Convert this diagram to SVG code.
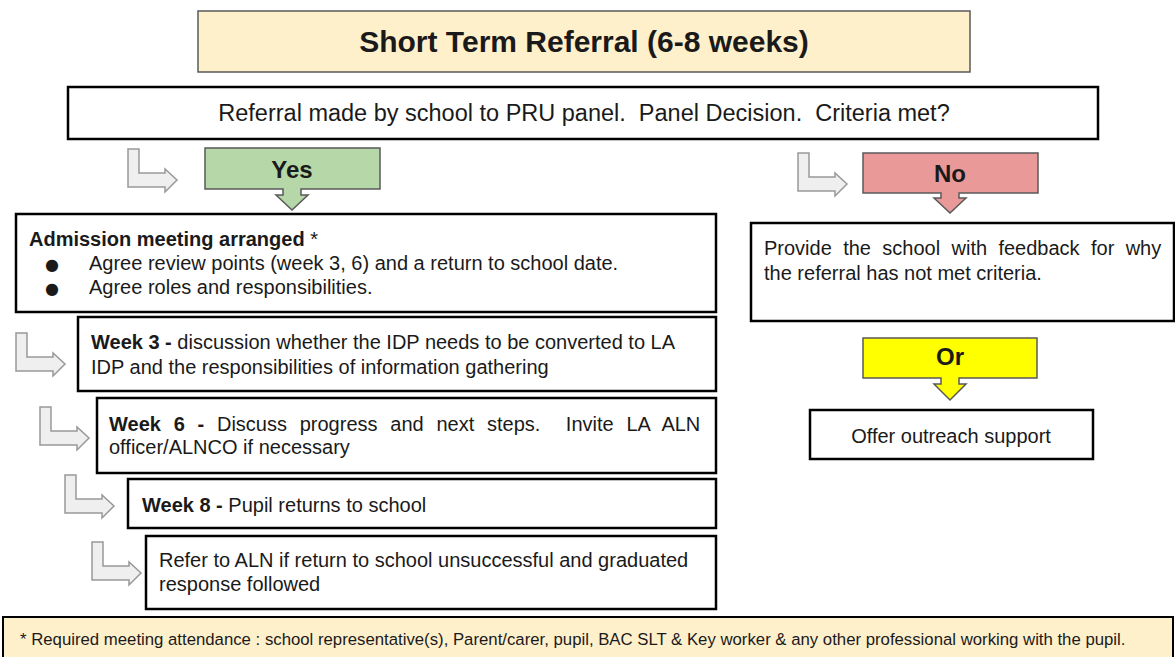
<svg xmlns="http://www.w3.org/2000/svg" width="1175" height="657" viewBox="0 0 1175 657">
<defs>
<style>
text{font-family:"Liberation Sans",Arial,sans-serif;fill:#1a1a1a;white-space:pre}
.box{fill:#fff;stroke:#000;stroke-width:2.5}
.t{font-size:20px}
.b{font-weight:bold}
.lbl{font-size:24px;font-weight:bold;text-anchor:middle}
.bent{fill:#efefef;stroke:#999;stroke-width:1.5}
.call{stroke:#595959;stroke-width:1.5}
.bul{font-family:"DejaVu Sans",sans-serif;font-size:16px}
</style>
<path id="bent" d="M0,0 H11 V24 H37 V20 L49,31 L37,43 V38 H0 Z"/>
</defs>

<g id="title">
<rect x="198" y="11" width="772" height="61" fill="#fff0cc" stroke="#595959" stroke-width="1.5"/>
<text x="584" y="52" font-size="30" font-weight="bold" text-anchor="middle">Short Term Referral (6-8 weeks)</text>
</g>

<g id="referral">
<rect class="box" x="68" y="87" width="1030" height="52"/>
<text x="584" y="121" font-size="23.5" text-anchor="middle">Referral made by school to PRU panel.  Panel Decision.  Criteria met?</text>
</g>

<g id="yes">
<path class="call" fill="#b6d7a8" d="M205,148 H380 V189 H301 V195 H308 L292,210 L276,195 H283 V189 H205 Z"/>
<text class="lbl" x="292" y="178">Yes</text>
</g>

<g id="no">
<path class="call" fill="#ea9999" d="M863,153 H1038 V193 H959 V198 H966 L950,213 L934,198 H941 V193 H863 Z"/>
<text class="lbl" x="950" y="182">No</text>
</g>

<g id="or">
<path class="call" fill="#ffff00" d="M863,338 H1037 V378 H959 V384 H966 L950,400 L934,384 H941 V378 H863 Z"/>
<text class="lbl" x="950" y="365">Or</text>
</g>

<g id="admission">
<rect class="box" x="16" y="214" width="700" height="98"/>
<text class="t" x="29" y="246"><tspan class="b">Admission meeting arranged</tspan> *</text>
<text class="bul" x="45" y="270">●</text>
<text class="t" x="89" y="270">Agree review points (week 3, 6) and a return to school date.</text>
<text class="bul" x="45" y="294">●</text>
<text class="t" x="89" y="294">Agree roles and responsibilities.</text>
</g>

<g id="week3">
<rect class="box" x="78" y="317" width="638" height="74"/>
<text class="t" x="91" y="349"><tspan class="b">Week 3 -</tspan> discussion whether the IDP needs to be converted to LA</text>
<text class="t" x="91" y="374">IDP and the responsibilities of information gathering</text>
</g>

<g id="week6">
<rect class="box" x="97" y="398" width="619" height="75"/>
<text class="t" x="109" y="431" word-spacing="7.2"><tspan class="b">Week 6 -</tspan> Discuss progress and next steps.  Invite LA ALN</text>
<text class="t" x="109" y="454">officer/ALNCO if necessary</text>
</g>

<g id="week8">
<rect class="box" x="128" y="479" width="588" height="49"/>
<text class="t" x="142" y="512"><tspan class="b">Week 8 -</tspan> Pupil returns to school</text>
</g>

<g id="refer">
<rect class="box" x="146" y="536" width="570" height="73"/>
<text class="t" x="159" y="567">Refer to ALN if return to school unsuccessful and graduated</text>
<text class="t" x="159" y="591">response followed</text>
</g>

<g id="provide">
<rect class="box" x="751" y="223" width="423" height="98"/>
<text class="t" x="764" y="255" word-spacing="5.8">Provide the school with feedback for why</text>
<text class="t" x="764" y="280">the referral has not met criteria.</text>
</g>

<g id="outreach">
<rect class="box" x="810" y="410" width="283" height="49"/>
<text class="t" x="951" y="443" text-anchor="middle">Offer outreach support</text>
</g>

<g id="footer">
<rect x="3" y="617" width="1170" height="45" fill="#fff0cc" stroke="#000" stroke-width="2"/>
<text x="20" y="645" font-size="16.75">* Required meeting attendance : school representative(s), Parent/carer, pupil, BAC SLT &amp; Key worker &amp; any other professional working with the pupil.</text>
</g>

<g id="connectors">
<use href="#bent" class="bent" x="128" y="149"/>
<use href="#bent" class="bent" x="798" y="153"/>
<use href="#bent" class="bent" x="16" y="333"/>
<use href="#bent" class="bent" x="40" y="407"/>
<use href="#bent" class="bent" x="65" y="475"/>
<use href="#bent" class="bent" x="92" y="542"/>
</g>
</svg>
